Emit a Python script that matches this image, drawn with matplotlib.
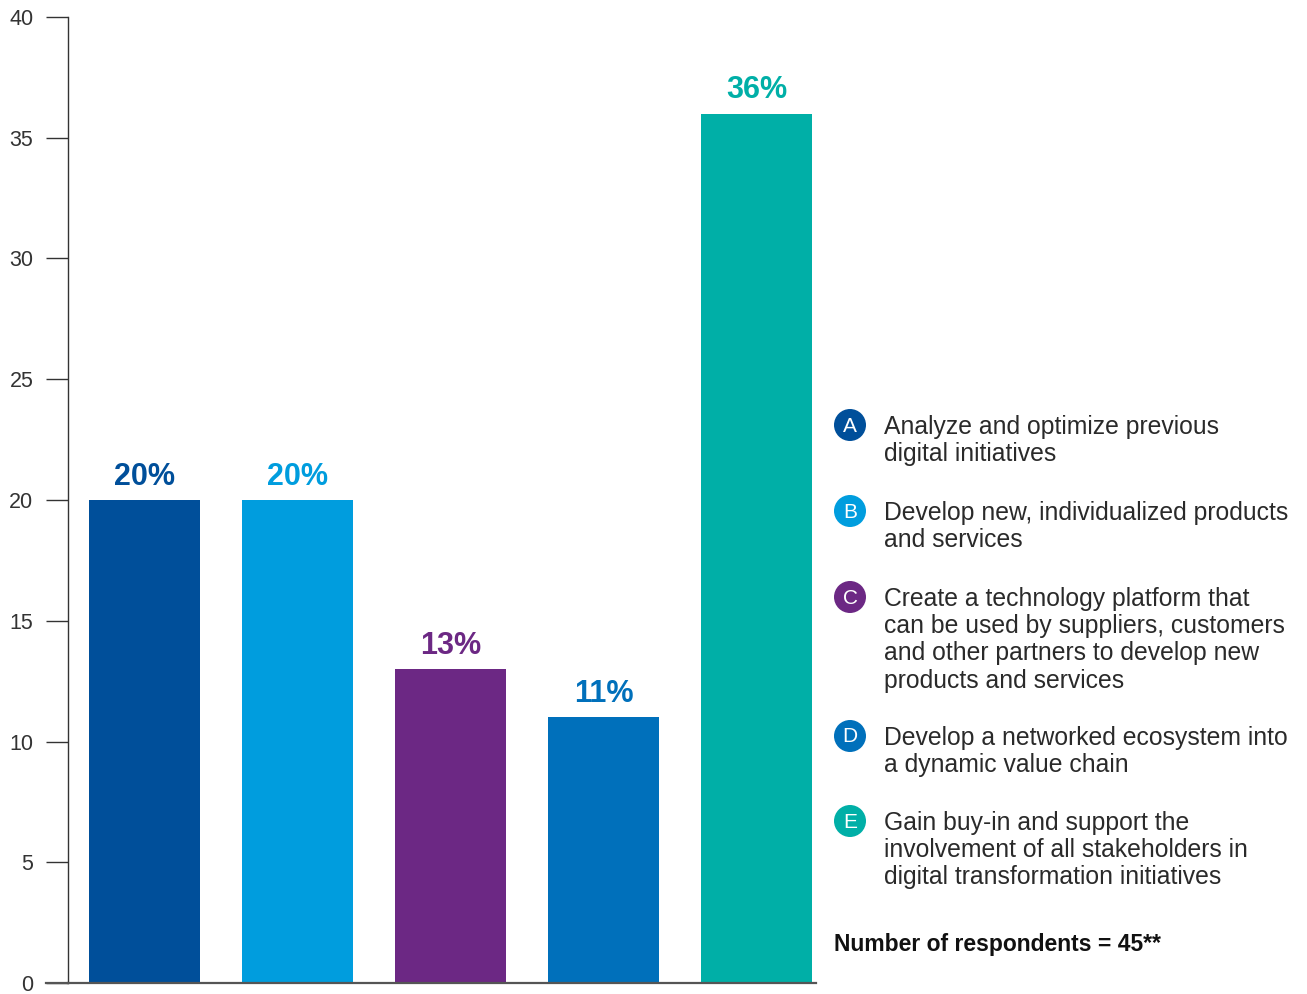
import matplotlib
matplotlib.use('Agg')
import matplotlib.pyplot as plt
import matplotlib.patches as patches

plt.rcParams['font.family'] = ['Liberation Sans', 'DejaVu Sans']

# data
letters = ['A', 'B', 'C', 'D', 'E']
values = [20, 20, 13, 11, 36]
value_labels = ['20%', '20%', '13%', '11%', '36%']
colors = ['#004F9A', '#009DDE', '#6C2884', '#0070BB', '#00AFA7']
descriptions = [
    'Analyze and optimize previous\ndigital initiatives',
    'Develop new, individualized products\nand services',
    'Create a technology platform that\ncan be used by suppliers, customers\nand other partners to develop new\nproducts and services',
    'Develop a networked ecosystem into\na dynamic value chain',
    'Gain buy-in and support the\ninvolvement of all stakeholders in\ndigital transformation initiatives',
]
yticks = [0, 5, 10, 15, 20, 25, 30, 35, 40]
note = 'Number of respondents = 45**'

W, H = 1307, 994
fig = plt.figure(figsize=(W / 100, H / 100), dpi=100)

# main bar axes, placed in pixels
left, right, top, bottom = 68, 816, 17, 983
ax = fig.add_axes([left / W, 1 - bottom / H, (right - left) / W, (bottom - top) / H])

x = range(len(values))
ax.bar(x, values, width=0.725, color=colors)
for i, (v, lab, c) in enumerate(zip(values, value_labels, colors)):
    ax.annotate(lab, (i, v), xytext=(0, 6), textcoords='offset points',
                ha='center', va='bottom', fontsize=22, fontweight='bold', color=c)

ax.set_xlim(-0.5, 4.39)
ax.set_ylim(0, 40)
ax.set_yticks(yticks)
ax.set_xticks([])
ax.tick_params(axis='y', length=16, width=1, color='#333333', pad=9,
               labelsize=15.5, labelcolor='#333333')
for s in ['top', 'right']:
    ax.spines[s].set_visible(False)
ax.spines['left'].set_color('#333333')
ax.spines['left'].set_linewidth(1)
ax.spines['bottom'].set_color('#555555')
ax.spines['bottom'].set_linewidth(1.6)
# baseline continues left under the tick labels like the 0 tick
ax.plot([-0.5 - 22 / 153, -0.5], [0, 0], color='#555555', lw=1.6, clip_on=False)

# overlay axes in pixel units for the legend
ov = fig.add_axes([0, 0, 1, 1])
ov.set_xlim(0, W)
ov.set_ylim(H, 0)
ov.axis('off')

entry_y = [425, 511, 597, 736, 821]
for letter, desc, c, yy in zip(letters, descriptions, colors, entry_y):
    ov.add_patch(patches.Circle((850, yy), 16, facecolor=c, edgecolor='none'))
    ov.text(850, yy + 1, letter, ha='center', va='center', color='white', fontsize=15)
    ov.text(884, yy - 10, desc, ha='left', va='top', fontsize=17.8, color='#2a2a2a',
            linespacing=1.17)

ov.text(834, 944, note, ha='left', va='center', fontsize=16.5, fontweight='bold', color='#111111')

fig.savefig('out.png', dpi=100)
